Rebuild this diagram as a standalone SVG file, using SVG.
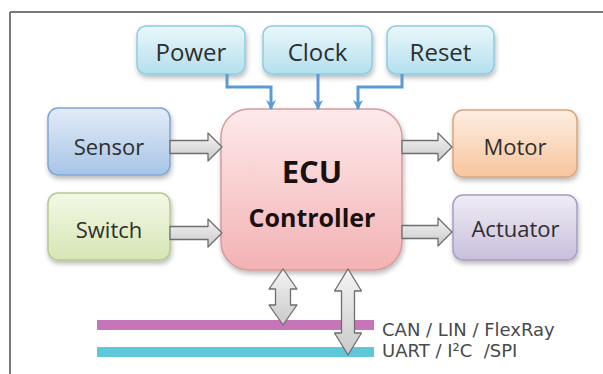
<svg xmlns="http://www.w3.org/2000/svg" width="603" height="374" viewBox="0 0 603 374">
<style>
.lbl{font-family:"Open Sans","Liberation Sans",sans-serif;fill:#2e2e2e;text-anchor:middle}
.top{font-size:24px}
.side{font-size:22px}
.ecu{font-family:"Open Sans","Liberation Sans",sans-serif;font-weight:bold;fill:#1a1010;text-anchor:middle}
.bus{font-family:"DejaVu Sans","Liberation Sans",sans-serif;font-size:18px;fill:#4a4a4a}
.blk{fill:url(#gGray);stroke:#6e6e6e;stroke-width:1.3;stroke-linejoin:round}
.conn{fill:none;stroke:#5b9bd5;stroke-width:3;marker-end:url(#ah)}
.box{stroke-width:1.5;filter:url(#sh)}
</style>
<defs>
<filter id="sh" x="-20%" y="-20%" width="140%" height="150%">
<feDropShadow dx="1" dy="3" stdDeviation="2.5" flood-color="#000" flood-opacity="0.28"/>
</filter>
<linearGradient id="gBlue" x1="0" y1="0" x2="0" y2="1"><stop offset="0" stop-color="#eaf7fb"/><stop offset="1" stop-color="#b3dfee"/></linearGradient>
<linearGradient id="gSensor" x1="0" y1="0" x2="0" y2="1"><stop offset="0" stop-color="#e2ecf8"/><stop offset="1" stop-color="#a7c4e6"/></linearGradient>
<linearGradient id="gSwitch" x1="0" y1="0" x2="0" y2="1"><stop offset="0" stop-color="#f3f8e6"/><stop offset="1" stop-color="#d6e6b4"/></linearGradient>
<linearGradient id="gEcu" x1="0" y1="0" x2="0" y2="1"><stop offset="0" stop-color="#fdeaea"/><stop offset="1" stop-color="#f3b2b4"/></linearGradient>
<linearGradient id="gMotor" x1="0" y1="0" x2="0" y2="1"><stop offset="0" stop-color="#fdeee2"/><stop offset="1" stop-color="#f7c59d"/></linearGradient>
<linearGradient id="gAct" x1="0" y1="0" x2="0" y2="1"><stop offset="0" stop-color="#f0ecf6"/><stop offset="1" stop-color="#c8bfdc"/></linearGradient>
<linearGradient id="gGray" x1="0" y1="0" x2="0" y2="1"><stop offset="0" stop-color="#f4f4f4"/><stop offset="1" stop-color="#c9c9c9"/></linearGradient>
<marker id="ah" viewBox="0 0 12 12" refX="10" refY="6" markerWidth="14" markerHeight="12" markerUnits="userSpaceOnUse" orient="auto">
<path d="M1,1 L11,6 L1,11 L4,6 Z" fill="#5b9bd5"/>
</marker>
</defs>
<rect width="603" height="374" fill="#ffffff"/>
<g id="frame" fill="none" stroke="#7a7a7a" stroke-width="2">
<line x1="10" y1="12" x2="603" y2="12"/>
<line x1="10" y1="12" x2="10" y2="374"/>
</g>

<g id="buses">
<rect x="97" y="320" width="277" height="10" fill="#c675b9"/>
<rect x="97" y="347" width="277" height="10" fill="#5ec8d8"/>
<text class="bus" x="382" y="336">CAN / LIN / FlexRay</text>
<text class="bus" x="382" y="357" xml:space="preserve">UART / I²C  /SPI</text>
</g>

<g id="power"><rect class="box" x="137" y="26" width="108" height="48" rx="9" fill="url(#gBlue)" stroke="#8ecbe0"/><text class="lbl top" x="191" y="61">Power</text></g>
<g id="clock"><rect class="box" x="263" y="26" width="109" height="48" rx="9" fill="url(#gBlue)" stroke="#8ecbe0"/><text class="lbl top" x="317.5" y="61">Clock</text></g>
<g id="reset"><rect class="box" x="387" y="26" width="107" height="48" rx="9" fill="url(#gBlue)" stroke="#8ecbe0"/><text class="lbl top" x="440.5" y="61">Reset</text></g>

<g id="sensor"><rect class="box" x="48" y="108" width="122" height="67" rx="10" fill="url(#gSensor)" stroke="#7fa5d2"/><text class="lbl side" x="109" y="155">Sensor</text></g>
<g id="switch"><rect class="box" x="48" y="193" width="122" height="67" rx="10" fill="url(#gSwitch)" stroke="#b5c98f"/><text class="lbl side" x="109" y="238">Switch</text></g>
<g id="motor"><rect class="box" x="453" y="110" width="124" height="67" rx="10" fill="url(#gMotor)" stroke="#d9a57c"/><text class="lbl side" x="515" y="155">Motor</text></g>
<g id="actuator"><rect class="box" x="453" y="195" width="124" height="65" rx="10" fill="url(#gAct)" stroke="#a89cc2"/><text class="lbl side" x="515.5" y="237">Actuator</text></g>

<g id="ecu"><rect class="box" x="221" y="109" width="181" height="161" rx="28" fill="url(#gEcu)" stroke="#d89a9c"/>
<text class="ecu" x="312" y="183" font-size="31">ECU</text>
<text class="ecu" x="312" y="227" font-size="25">Controller</text></g>

<g id="connectors">
<polyline class="conn" points="227,74 227,87 271,87 271,109"/>
<polyline class="conn" points="318,74 318,109"/>
<polyline class="conn" points="402,74 402,87 358,87 358,109"/>
<polygon class="blk" points="170,140.5 208,140.5 208,133 222,147 208,161 208,153.5 170,153.5"/>
<polygon class="blk" points="170,226.5 208,226.5 208,219 222,233 208,247 208,239.5 170,239.5"/>
<polygon class="blk" points="402,140.5 438,140.5 438,133 452,147 438,161 438,153.5 402,153.5"/>
<polygon class="blk" points="402,225.5 438,225.5 438,218 452,232 438,246 438,238.5 402,238.5"/>
<polygon class="blk" points="283,269 297,289 290.5,289 290.5,305 297,305 283,325 269,305 275.5,305 275.5,289 269,289"/>
<polygon class="blk" points="348,269 361.5,291 354.5,291 354.5,333 361.5,333 348,355 334.5,333 341.5,333 341.5,291 334.5,291"/>
</g>
</svg>
